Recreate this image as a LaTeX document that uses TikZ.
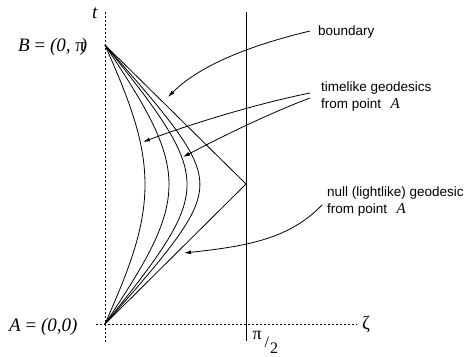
\documentclass[tikz,border=0pt]{standalone}
\usepackage{fontspec}
\setmainfont{Liberation Serif}
\newfontfamily\annfont{Liberation Sans}
\usetikzlibrary{arrows.meta}
\begin{document}
\begin{tikzpicture}[x=1pt,y=-1pt,
  axis/.style={line width=0.7pt, dash pattern=on 2pt off 2pt},
  geo/.style={line width=0.8pt},
  callout/.style={line width=0.8pt, -{Latex[length=7pt,width=4pt]}},
  ann/.style={font=\annfont\fontsize{13.5}{16}\selectfont, anchor=base west, inner sep=0pt},
  lab/.style={font=\fontsize{19}{22}\selectfont, inner sep=0pt}]
\useasboundingbox (0,0) rectangle (465,356);
% frame points
\coordinate (A) at (105,324);
\coordinate (B) at (105,45);
\coordinate (N) at (246,184);
\coordinate (ytop) at (105,12);
\coordinate (ybot) at (105,343);
\coordinate (xl) at (96,324);
\coordinate (xr) at (357,324);
\coordinate (bt) at (246,12);
\coordinate (bb) at (246,341);
% axes and boundary
\draw[axis] (ytop) -- (ybot);
\draw[axis] (xl) -- (xr);
\draw[geo] (bt) -- (bb);
% null geodesic
\draw[geo] (A) -- (N) -- (B);
% timelike geodesics  sin(zeta) = v sin(t)
\foreach \v in {0.431,0.654,0.792,0.871}
  \draw[geo] plot[domain=0:180, samples=91, smooth, variable=\tt]
    ({105+141*atan((\v*sin(\tt))/sqrt(1-(\v*sin(\tt))*(\v*sin(\tt))))/90}, {324-1.55*\tt});
% axis labels
\node[lab, anchor=base] (tlab) at (95,18) {\textit{t}};
\node[lab, anchor=base west] (Blab) at (18,51) {\textit{B} = \textit{(0,} π\kern-4pt\textit{)}};
\node[lab, anchor=base west] (Alab) at (9,331) {\textit{A} = \textit{(0,0)}};
\node[lab, anchor=base west] (zlab) at (362,329) {ζ};
\node[lab, anchor=base west, font=\fontsize{18}{20}\selectfont] (pilab) at (252.5,339) {π};
\node[lab, anchor=base west, font=\fontsize{16}{20}\selectfont] (slash) at (264.5,347) {/};
\node[lab, anchor=base west, font=\fontsize{16}{20}\selectfont] (two) at (270,353) {2};
% annotations
\node[ann] (bnd) at (318,35) {boundary};
\node[ann] (tl1) at (321,91) {timelike geodesics};
\node[ann] (tl2) at (321,108) {from point\hspace{0.7em}{\rmfamily\itshape\fontsize{15}{18}\selectfont A}};
\node[ann] (nl1) at (327,196) {null (lightlike) geodesic};
\node[ann] (nl2) at (327,213) {from point\hspace{0.7em}{\rmfamily\itshape\fontsize{15}{18}\selectfont A}};
% callout ends
\coordinate (bs) at (310,31);
\coordinate (be) at (168,97);
\coordinate (t1s) at (310,93);
\coordinate (t1e) at (143,142);
\coordinate (t2s) at (310,98);
\coordinate (t2e) at (183,157);
\coordinate (ns) at (322,205);
\coordinate (ne) at (184,253);
\draw[callout] (bs) .. controls (260,43) and (203,62) .. (be);
\draw[callout] (t1s) .. controls (260,103) and (193,123) .. (t1e);
\draw[callout] (t2s) .. controls (270,113) and (223,136) .. (t2e);
\draw[callout] (ns) .. controls (290,238) and (250,246) .. (ne);
\end{tikzpicture}
\end{document}
